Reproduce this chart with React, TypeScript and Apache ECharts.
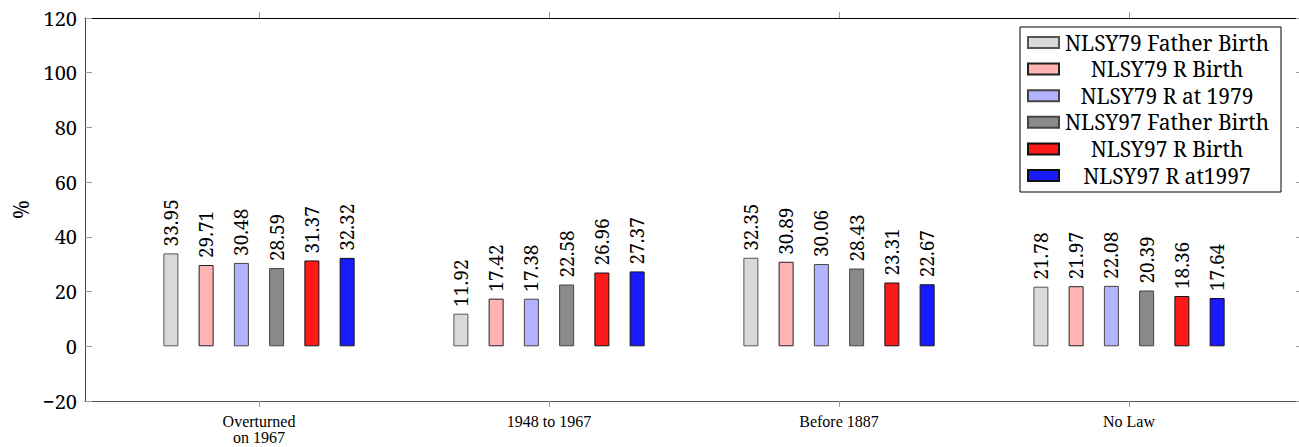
import React, { useEffect, useRef } from "react";
import * as echarts from "echarts";

const categories = ["Overturned\non 1967", "1948 to 1967", "Before 1887", "No Law"];
const categoryPositions = [0, 1, 2, 3];
const seriesNames = [
  "NLSY79 Father Birth",
  "NLSY79 R Birth",
  "NLSY79 R at 1979",
  "NLSY97 Father Birth",
  "NLSY97 R Birth",
  "NLSY97 R at1997",
];
const nlsy79Father = [33.95, 11.92, 32.35, 21.78];
const nlsy79RBirth = [29.71, 17.42, 30.89, 21.97];
const nlsy79R1979 = [30.48, 17.38, 30.06, 22.08];
const nlsy97Father = [28.59, 22.58, 28.43, 20.39];
const nlsy97RBirth = [31.37, 26.96, 23.31, 18.36];
const nlsy97R1997 = [32.32, 27.37, 22.67, 17.64];
const seriesValues = [nlsy79Father, nlsy79RBirth, nlsy79R1979, nlsy97Father, nlsy97RBirth, nlsy97R1997];
const fillColors = ["#d9d9d9", "#ffb3b3", "#b3b3ff", "#8a8a8a", "#ff1a1a", "#1a1aff"];
const borderColors = ["#555555", "#222222", "#444444", "#444444", "#111111", "#111111"];
const yMin = -20;
const yMax = 120;
const yStep = 20;

const BIG_FONT = "Noto Serif";
const SMALL_FONT = "Liberation Serif";

export default function App() {
  const ref = useRef<HTMLDivElement>(null);
  useEffect(() => {
    if (!ref.current) return;
    const chart = echarts.init(ref.current, undefined, { renderer: "svg" });
    const series = seriesNames.map((name, i) => ({
      name,
      type: "bar",
      xAxisIndex: 0,
      yAxisIndex: 0,
      barWidth: 15,
      barGap: "135%",
      data: categoryPositions.map((x, j) => [x, seriesValues[i][j]]),
      itemStyle: { color: fillColors[i], borderColor: borderColors[i], borderWidth: 1 },
      label: {
        show: true,
        position: "top",
        rotate: 90,
        align: "left",
        verticalAlign: "middle",
        distance: 7,
        fontSize: 19,
        fontFamily: BIG_FONT,
        color: "#000",
        formatter: (p: any) => Number(p.value[1]).toFixed(2),
      },
    }));
    const xCommon = {
      type: "value",
      min: -0.6,
      max: 3.6,
      splitLine: { show: false },
    };
    chart.setOption({
      animation: false,
      textStyle: { fontFamily: BIG_FONT },
      grid: { left: 85, right: -4, top: 18, bottom: 46, containLabel: false, outerBoundsMode: "none" },
      legend: {
        orient: "vertical",
        left: 1020,
        top: 27,
        padding: [5, 11, 6, 7],
        itemGap: 5.6,
        itemWidth: 31,
        itemHeight: 11,
        borderColor: "#000",
        borderWidth: 1,
        backgroundColor: "#fff",
        icon: "rect",
        data: seriesNames,
        formatter: (n: string) => `{c|${n}}`,
        textStyle: {
          color: "#000",
          fontFamily: BIG_FONT,
          fontSize: 21,
          rich: {
            c: { width: 206, align: "center", fontFamily: BIG_FONT, fontSize: 21, lineHeight: 22, color: "#000" },
          },
        },
      },
      xAxis: [
        {
          ...xCommon,
          position: "bottom",
          axisLine: { show: true, onZero: false, lineStyle: { color: "#555", width: 1 } },
          axisTick: { show: true, inside: false, length: 6, customValues: categoryPositions, lineStyle: { color: "#999" } },
          axisLabel: {
            show: true,
            customValues: categoryPositions,
            formatter: (v: number) => categories[Math.round(v)] ?? "",
            margin: 12,
            fontFamily: SMALL_FONT,
            fontSize: 16,
            lineHeight: 16,
            color: "#000",
          },
        },
        {
          ...xCommon,
          position: "top",
          axisLine: { show: true, onZero: false, lineStyle: { color: "#000", width: 1 } },
          axisTick: { show: true, inside: false, length: 6, customValues: categoryPositions, lineStyle: { color: "#999" } },
          axisLabel: { show: false },
        },
      ],
      yAxis: [
        {
          type: "value",
          min: yMin,
          max: yMax,
          interval: yStep,
          position: "left",
          name: "%",
          nameLocation: "middle",
          nameGap: 54,
          nameTextStyle: { fontFamily: BIG_FONT, fontSize: 21, color: "#000" },
          axisLine: { show: true, onZero: false, lineStyle: { color: "#444", width: 1 } },
          axisTick: { show: true, inside: true, length: 7, lineStyle: { color: "#999" } },
          axisLabel: {
            margin: 8,
            fontFamily: BIG_FONT,
            fontSize: 20,
            color: "#000",
            formatter: (v: number) => (v < 0 ? "\u2212" + Math.abs(v) : String(v)),
          },
          splitLine: { show: false },
        },
        {
          type: "value",
          min: yMin,
          max: yMax,
          interval: yStep,
          position: "right",
          axisLine: { show: true, onZero: false, lineStyle: { color: "#444", width: 1 } },
          axisTick: { show: true, inside: true, length: 7, lineStyle: { color: "#999" } },
          axisLabel: { show: false },
          splitLine: { show: false },
        },
      ],
      series,
    });
    return () => chart.dispose();
  }, []);
  return (
    <div
      ref={ref}
      style={{ position: "absolute", left: 0, top: 0, width: 1299, height: 447, background: "#fff" }}
    />
  );
}
